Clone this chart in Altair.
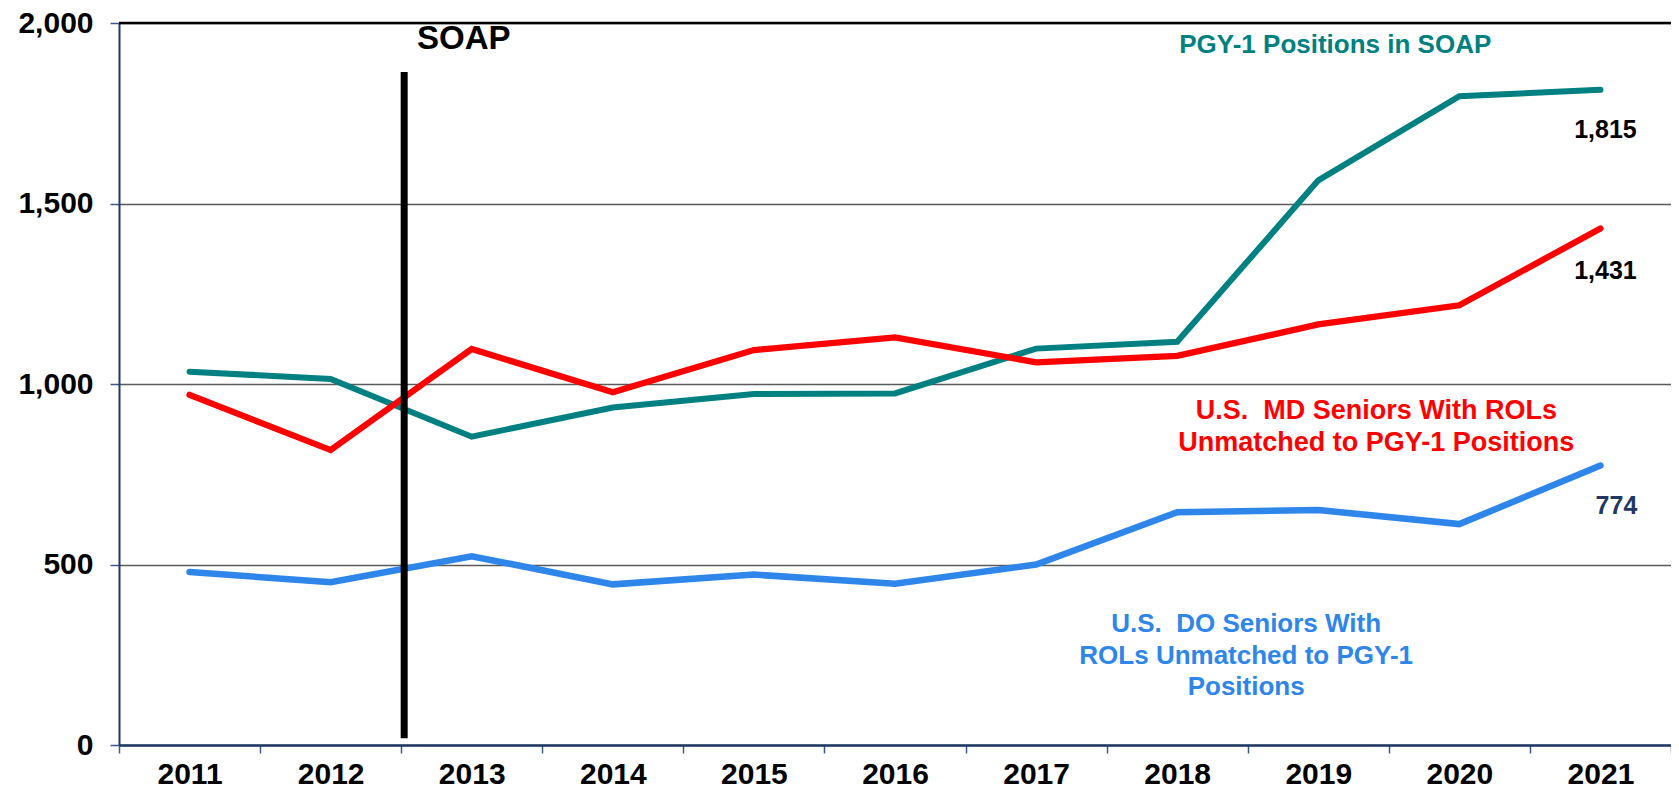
import altair as alt
import pandas as pd

# ---- data ----
years = ["2011", "2012", "2013", "2014", "2015", "2016", "2017", "2018", "2019", "2020", "2021"]
pgy1_soap = [1034, 1014, 854, 935, 972, 974, 1098, 1117, 1564, 1797, 1815]
md_unmatched = [970, 817, 1097, 977, 1094, 1129, 1060, 1078, 1165, 1218, 1431]
do_unmatched = [479, 451, 523, 445, 472, 447, 500, 645, 651, 612, 774]
series_names = ["PGY-1 Positions in SOAP", "U.S. MD Seniors Unmatched", "U.S. DO Seniors Unmatched"]
y_ticks = [0, 500, 1000, 1500, 2000]
soap_year = "2013"
soap_span = [19, 1864]

TEAL, RED, BLUE, NAVY = "#008080", "#FF0000", "#2E86EA", "#1F3864"
FONT = "Liberation Sans"
NB = "\u00a0"

rows = []
for name, vals in zip(series_names, [pgy1_soap, md_unmatched, do_unmatched]):
    for yr, v in zip(years, vals):
        rows.append({"series": name, "year": yr, "value": v})
df = pd.DataFrame(rows)

x_scale = alt.Scale(domain=years, paddingInner=0, paddingOuter=0)
y_scale = alt.Scale(domain=[0, 2000], nice=False)

x_axis = alt.Axis(
    tickBand="extent", labelAngle=0, grid=False, title=None,
    domainColor=NAVY, domainWidth=2.5, tickColor="#3A5A8C", tickSize=8, tickWidth=1.5,
    labelFont=FONT, labelFontSize=30, labelFontWeight="bold", labelColor="black", labelPadding=6,
)
y_axis = alt.Axis(
    values=y_ticks, format=",d", title=None, grid=True, gridColor="#5A5A5A", gridWidth=1.5,
    domainColor=NAVY, domainWidth=2, tickColor="#3A5A8C", tickSize=9, tickWidth=1.5,
    labelFont=FONT, labelFontSize=30, labelFontWeight="bold", labelColor="black", labelPadding=17,
)

lines = alt.Chart(df).mark_line(strokeCap="round", strokeJoin="miter").encode(
    x=alt.X("year:O", scale=x_scale, axis=x_axis),
    y=alt.Y("value:Q", scale=y_scale, axis=y_axis),
    color=alt.Color("series:N", scale=alt.Scale(domain=series_names, range=[TEAL, RED, BLUE]), legend=None),
    strokeWidth=alt.StrokeWidth("series:N", scale=alt.Scale(domain=series_names, range=[6, 6.5, 5]), legend=None),
    order=alt.Order("year:O"),
)

top_border = alt.Chart(pd.DataFrame({"value": [y_ticks[-1]]})).mark_rule(color="black", strokeWidth=2.5).encode(
    y=alt.Y("value:Q", scale=y_scale)
)

soap_rule = alt.Chart(pd.DataFrame({"year": [soap_year], "y0": [soap_span[0]], "y1": [soap_span[1]]})).mark_rule(
    color="black", strokeWidth=7, xOffset=3
).encode(
    x=alt.X("year:O", scale=x_scale, bandPosition=0),
    y=alt.Y("y0:Q", scale=y_scale),
    y2="y1:Q",
)

def label(text, year, val, color, size, dx=0, dy=0, line_height=None):
    kw = dict(text=text, color=color, font=FONT, fontWeight="bold", fontSize=size,
              align="center", baseline="alphabetic", dx=dx, dy=dy)
    if line_height:
        kw["lineHeight"] = line_height
    return alt.Chart(pd.DataFrame({"year": [year], "value": [val]})).mark_text(**kw).encode(
        x=alt.X("year:O", scale=x_scale),
        y=alt.Y("value:Q", scale=y_scale),
    )

soap_text = label("SOAP", "2013", 1924, "black", 33, dx=-8, dy=-1)
pgy_text = label("PGY-1 Positions in SOAP", "2019", 1914, TEAL, 26, dx=17, dy=-1)
md_text = label([f"U.S.{NB} MD Seniors With ROLs", "Unmatched to PGY-1 Positions"], "2019", 903, RED, 27, dx=58, line_height=32)
do_text = label([f"U.S.{NB} DO Seniors With", "ROLs Unmatched to PGY-1", "Positions"], "2018", 313, BLUE, 26, dx=69, line_height=31.5)

end_pgy = label(f"{pgy1_soap[-1]:,}", years[-1], pgy1_soap[-1], "black", 25, dx=5, dy=48)
end_md = label(f"{md_unmatched[-1]:,}", years[-1], md_unmatched[-1], "black", 25, dx=5, dy=51)
end_do = label(f"{do_unmatched[-1]:,}", years[-1], do_unmatched[-1], NAVY, 25, dx=16, dy=48)

chart = alt.layer(
    lines, top_border, soap_rule, soap_text, pgy_text, md_text, do_text, end_pgy, end_md, end_do
).properties(
    width=1552, height=722,
    padding={"left": 111, "top": 15, "right": 0, "bottom": 47},
    autosize=alt.AutoSizeParams(type="none"),
    background="white",
).configure_view(stroke=None)

chart.save("out.html", embed_options={"renderer": "svg", "actions": False})
